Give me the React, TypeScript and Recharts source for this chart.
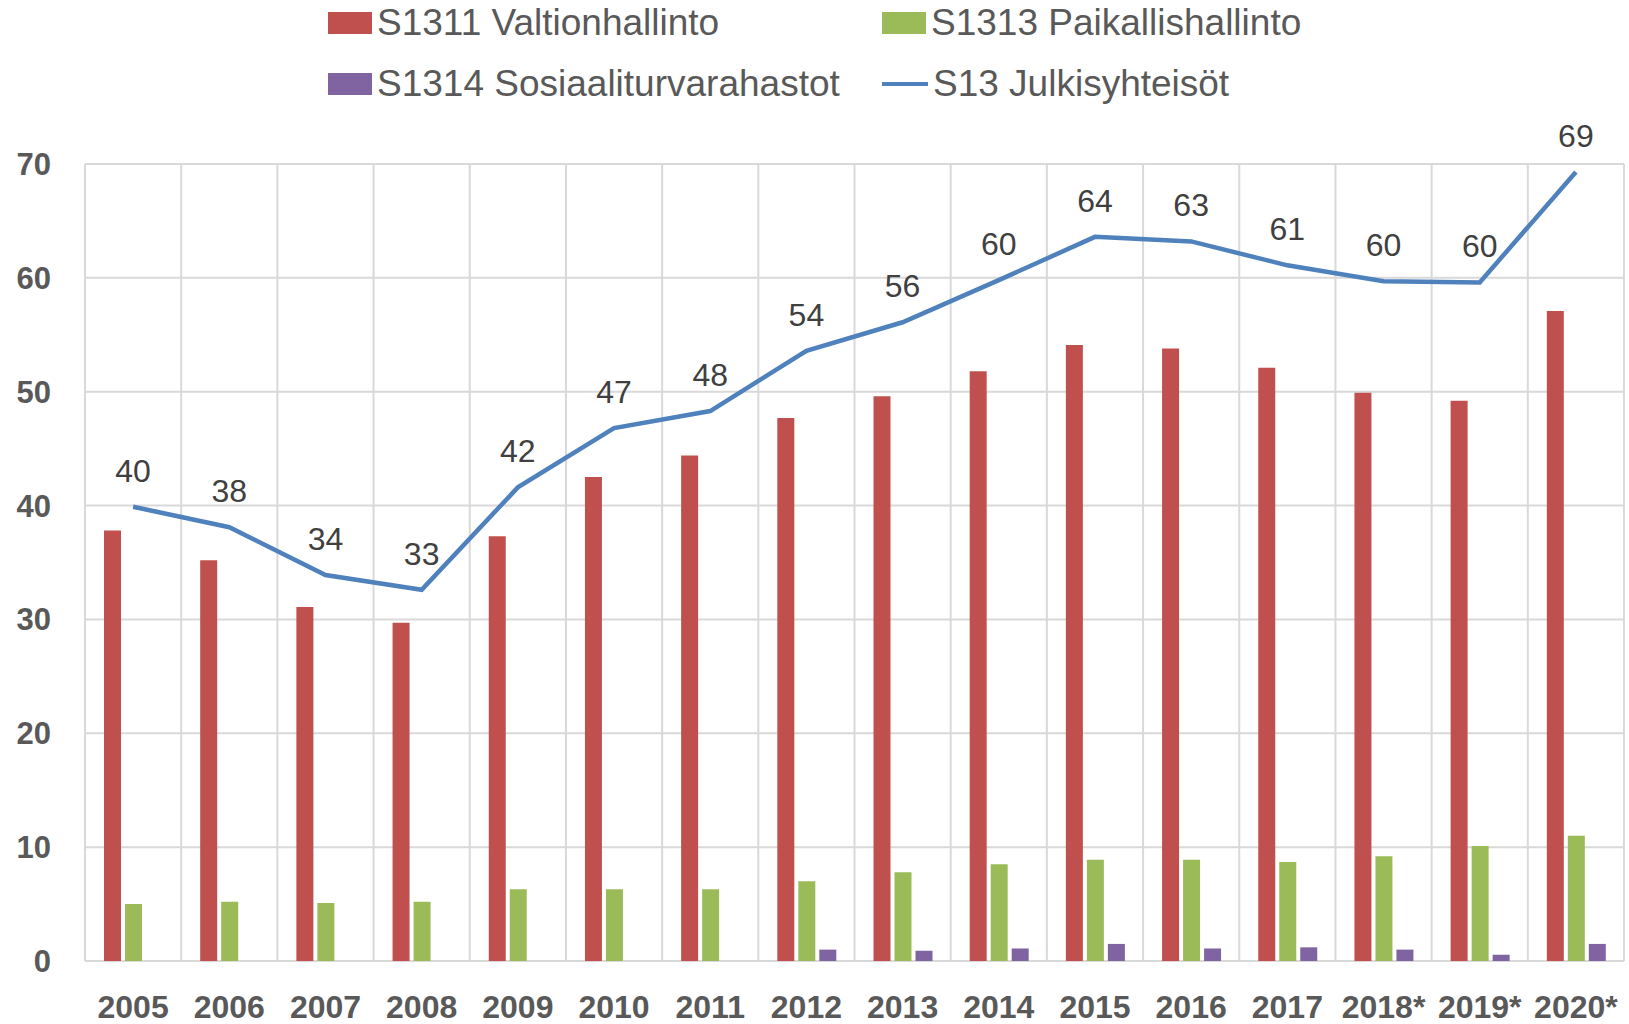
import React from 'react';
import { ComposedChart, Bar, Line, XAxis, YAxis, CartesianGrid, Legend, LabelList } from 'recharts';

const years = ['2005', '2006', '2007', '2008', '2009', '2010', '2011', '2012', '2013', '2014', '2015', '2016', '2017', '2018*', '2019*', '2020*'];
const valtionhallinto = [37.8, 35.2, 31.1, 29.7, 37.3, 42.5, 44.4, 47.7, 49.6, 51.8, 54.1, 53.8, 52.1, 49.9, 49.2, 57.1];
const paikallishallinto = [5.0, 5.2, 5.1, 5.2, 6.3, 6.3, 6.3, 7.0, 7.8, 8.5, 8.9, 8.9, 8.7, 9.2, 10.1, 11.0];
const sosiaaliturvarahastot = [0, 0, 0, 0, 0, 0, 0, 1.0, 0.9, 1.1, 1.5, 1.1, 1.2, 1.0, 0.55, 1.5];
const julkisyhteisot = [39.9, 38.1, 33.9, 32.6, 41.6, 46.8, 48.3, 53.6, 56.1, 59.8, 63.6, 63.2, 61.1, 59.7, 59.6, 69.3];
const yTicks = [0, 10, 20, 30, 40, 50, 60, 70];
const seriesNames = ['S1311 Valtionhallinto', 'S1313 Paikallishallinto', 'S1314 Sosiaaliturvarahastot', 'S13 Julkisyhteisöt'];

const COLORS = ['#C0504D', '#9BBB59', '#8064A2', '#4F81BD'];
const FONT = '"Liberation Sans", Arial, sans-serif';

const data = years.map((year, i) => ({
  year,
  s1311: valtionhallinto[i],
  s1313: paikallishallinto[i],
  s1314: sosiaaliturvarahastot[i],
  s13: julkisyhteisot[i],
}));

const legendPos = [
  { left: 328, top: 1 },
  { left: 882, top: 1 },
  { left: 328, top: 62 },
  { left: 882, top: 62 },
];

const renderLegend = () => (
  <div style={{ position: 'relative', width: 1629, height: 110, fontFamily: FONT, fontSize: 37, color: '#595959' }}>
    {seriesNames.map((name, i) => (
      <div
        key={name}
        style={{
          position: 'absolute',
          left: legendPos[i].left,
          top: legendPos[i].top,
          height: 44,
          lineHeight: '44px',
          display: 'flex',
          alignItems: 'center',
          whiteSpace: 'nowrap',
        }}
      >
        {i < 3 ? (
          <span style={{ display: 'inline-block', width: 44, height: 22, background: COLORS[i], marginRight: 5 }} />
        ) : (
          <span style={{ display: 'inline-block', width: 46, height: 4, background: COLORS[i], marginRight: 5 }} />
        )}
        <span>{name}</span>
      </div>
    ))}
  </div>
);

const verticalLines = ({ offset }: any) => {
  const n = years.length;
  const out: number[] = [];
  for (let i = 0; i <= n; i++) out.push(offset.left + (i * offset.width) / n);
  return out;
};

export default function App() {
  return (
    <div style={{ position: 'absolute', left: 0, top: 0, width: 1629, height: 1024, background: '#fff' }}>
      <ComposedChart
        width={1629}
        height={1024}
        data={data}
        margin={{ top: 164, right: 5, left: 0, bottom: 0 }}
        barSize={17}
        barGap={4}
      >
        <CartesianGrid stroke="#D9D9D9" strokeWidth={2} verticalCoordinatesGenerator={verticalLines} />
        <XAxis
          dataKey="year"
          height={63}
          axisLine={false}
          tickLine={false}
          tickSize={0}
          tickMargin={34}
          interval={0}
          tick={{ fill: '#595959', fontSize: 32, fontWeight: 700, fontFamily: FONT }}
        />
        <YAxis
          width={85}
          domain={[0, 70]}
          ticks={yTicks}
          axisLine={false}
          tickLine={false}
          tickSize={0}
          tickMargin={34}
          tick={{ fill: '#595959', fontSize: 31, fontWeight: 700, fontFamily: FONT }}
        />
        <Legend
          verticalAlign="middle"
          layout="horizontal"
          align="center"
          content={renderLegend}
          wrapperStyle={{ top: 0, left: 0, width: 1629, height: 110 }}
        />
        <Bar dataKey="s1311" name={seriesNames[0]} fill={COLORS[0]} isAnimationActive={false} />
        <Bar dataKey="s1313" name={seriesNames[1]} fill={COLORS[1]} isAnimationActive={false} />
        <Bar dataKey="s1314" name={seriesNames[2]} fill={COLORS[2]} isAnimationActive={false} />
        <Line
          dataKey="s13"
          name={seriesNames[3]}
          type="linear"
          stroke={COLORS[3]}
          strokeWidth={4.5}
          dot={false}
          isAnimationActive={false}
        >
          <LabelList
            dataKey="s13"
            position="top"
            offset={25}
            formatter={(v: any) => Math.round(Number(v))}
            fill="#404040"
            fontSize={32}
            fontFamily={FONT}
          />
        </Line>
      </ComposedChart>
    </div>
  );
}
